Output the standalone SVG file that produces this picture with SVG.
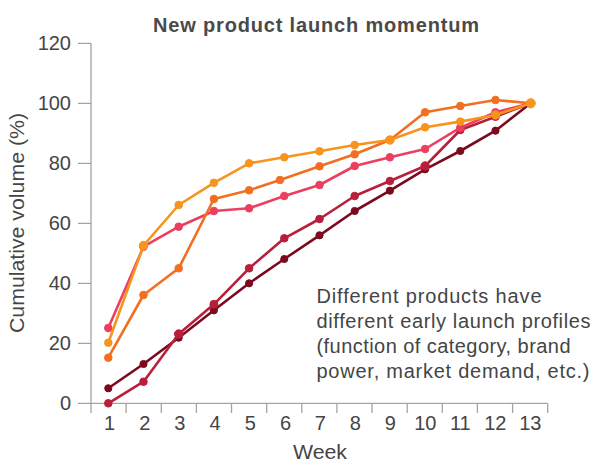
<svg xmlns="http://www.w3.org/2000/svg" width="595" height="463" viewBox="0 0 595 463">
<style>
text{font-family:"Liberation Sans",Arial,sans-serif;fill:#454545;font-size:20px}
.title{font-weight:bold;fill:#4a4a4a}
.ax{stroke:#aaa29c;stroke-width:1.3;fill:none}
.s{fill:none;stroke-width:2.6;stroke-linejoin:round;stroke-linecap:round}
.ytl{text-anchor:end}
.xtl{text-anchor:middle}
.lo{stroke:#f7941e;fill:#f7941e}
.or{stroke:#f26f22;fill:#f26f22}
.pk{stroke:#ec3f60;fill:#ec3f60}
.cr{stroke:#b71f3b;fill:#b71f3b}
.mr{stroke:#7c0a1f;fill:#7c0a1f}
</style>
<rect width="595" height="463" fill="#ffffff"/>
<text class="title" x="316" y="32" text-anchor="middle" textLength="326" lengthAdjust="spacing">New product launch momentum</text>
<g id="axes">
<path class="ax" d="M91 43.3V413M78 43.3H91M78 103.3H91M78 163.3H91M78 223.3H91M78 283.3H91M78 343.3H91M78 403.3H547.7"/>
<path class="ax" d="M126.1 403.3v9.7M161.3 403.3v9.7M196.4 403.3v9.7M231.5 403.3v9.7M266.7 403.3v9.7M301.8 403.3v9.7M336.9 403.3v9.7M372 403.3v9.7M407.2 403.3v9.7M442.3 403.3v9.7M477.4 403.3v9.7M512.6 403.3v9.7M547.7 403.3v9.7"/>
<text class="ytl" x="71" y="50.3">120</text>
<text class="ytl" x="71" y="110.3">100</text>
<text class="ytl" x="71" y="170.3">80</text>
<text class="ytl" x="71" y="230.3">60</text>
<text class="ytl" x="71" y="290.3">40</text>
<text class="ytl" x="71" y="350.3">20</text>
<text class="ytl" x="71" y="410.3">0</text>
<text class="xtl" x="109.5" y="430">1</text>
<text class="xtl" x="144.7" y="430">2</text>
<text class="xtl" x="179.9" y="430">3</text>
<text class="xtl" x="215.1" y="430">4</text>
<text class="xtl" x="250.3" y="430">5</text>
<text class="xtl" x="285.5" y="430">6</text>
<text class="xtl" x="320.3" y="430">7</text>
<text class="xtl" x="355.3" y="430">8</text>
<text class="xtl" x="390.3" y="430">9</text>
<text class="xtl" x="425.3" y="430">10</text>
<text class="xtl" x="460.3" y="430">11</text>
<text class="xtl" x="495.3" y="430">12</text>
<text class="xtl" x="530.3" y="430">13</text>
<text x="320" y="459" text-anchor="middle" textLength="54" lengthAdjust="spacingAndGlyphs">Week</text>
<text transform="translate(24 223) rotate(-90)" text-anchor="middle" textLength="220" lengthAdjust="spacingAndGlyphs">Cumulative volume (%)</text>
</g>
<g id="connectors">
<g id="series-maroon">
<polyline class="s mr" style="fill:none" points="108.3,388.3 143.5,364 178.7,337.7 213.9,310.3 249.1,283.3 284.3,259 319.5,235.3 354.7,211 389.9,190.7 425.1,169.3 460.3,151 495.5,130.7 530.7,103.3"/>
<g class="mr"><circle cx="108.3" cy="388.3" r="3.6"/><circle cx="143.5" cy="364" r="3.6"/><circle cx="178.7" cy="337.7" r="3.6"/><circle cx="213.9" cy="310.3" r="3.6"/><circle cx="249.1" cy="283.3" r="3.6"/><circle cx="284.3" cy="259" r="3.6"/><circle cx="319.5" cy="235.3" r="3.6"/><circle cx="354.7" cy="211" r="3.6"/><circle cx="389.9" cy="190.7" r="3.6"/><circle cx="425.1" cy="169.3" r="3.6"/><circle cx="460.3" cy="151" r="3.6"/><circle cx="495.5" cy="130.7" r="3.6"/></g>
</g>
<g id="series-crimson">
<polyline class="s cr" style="fill:none" points="108.3,403.3 143.5,381.7 178.7,334 213.9,304.3 249.1,268.3 284.3,238.3 319.5,219 354.7,196 389.9,181 425.1,166 460.3,130 495.5,116.7 530.7,103.3"/>
<g class="cr"><circle cx="108.3" cy="403.3" r="3.8"/><circle cx="143.5" cy="381.7" r="3.8"/><circle cx="178.7" cy="334" r="4.2"/><circle cx="213.9" cy="304.3" r="4"/><circle cx="249.1" cy="268.3" r="3.8"/><circle cx="284.3" cy="238.3" r="3.8"/><circle cx="319.5" cy="219" r="3.8"/><circle cx="354.7" cy="196" r="3.8"/><circle cx="389.9" cy="181" r="3.8"/><circle cx="425.1" cy="166" r="4.2"/><circle cx="460.3" cy="130" r="3.8"/><circle cx="495.5" cy="116.7" r="3.8"/></g>
</g>
<g id="series-pink">
<polyline class="s pk" style="fill:none" points="108.3,328 143.5,246.7 178.7,226.7 213.9,211 249.1,208.3 284.3,196 319.5,185 354.7,166 389.9,157.3 425.1,149 460.3,127.7 495.5,112.3 530.7,103.3"/>
<g class="pk"><circle cx="108.3" cy="328" r="3.8"/><circle cx="143.5" cy="246.7" r="3.8"/><circle cx="178.7" cy="226.7" r="3.8"/><circle cx="213.9" cy="211" r="3.8"/><circle cx="249.1" cy="208.3" r="3.8"/><circle cx="284.3" cy="196" r="3.8"/><circle cx="319.5" cy="185" r="3.8"/><circle cx="354.7" cy="166" r="3.8"/><circle cx="389.9" cy="157.3" r="3.8"/><circle cx="425.1" cy="149" r="3.8"/><circle cx="460.3" cy="127.7" r="3.8"/><circle cx="495.5" cy="112.3" r="3.8"/></g>
</g>
<g id="series-orange">
<polyline class="s or" style="fill:none" points="108.3,357.7 143.5,295 178.7,268.3 213.9,199 249.1,190.3 280,180 319.5,166.3 354.7,154.3 389.9,140 425.1,112.3 460.3,106 495.5,100 530.7,103.3"/>
<g class="or"><circle cx="108.3" cy="357.7" r="3.8"/><circle cx="143.5" cy="295" r="3.8"/><circle cx="178.7" cy="268.3" r="3.8"/><circle cx="213.9" cy="199" r="3.8"/><circle cx="249.1" cy="190.3" r="3.8"/><circle cx="280" cy="180" r="3.8"/><circle cx="319.5" cy="166.3" r="3.8"/><circle cx="354.7" cy="154.3" r="3.8"/><circle cx="389.9" cy="140" r="3.8"/><circle cx="425.1" cy="112.3" r="3.8"/><circle cx="460.3" cy="106" r="3.8"/><circle cx="495.5" cy="100" r="3.8"/></g>
</g>
<g id="series-lightorange">
<polyline class="s lo" style="fill:none" points="108.3,342.7 143.5,245.5 178.7,205 213.9,182.8 249.1,163.3 284.3,157.3 319.5,151.3 354.7,145 389.9,140 425.1,127.3 460.3,121.6 495.5,115 530.7,103.3"/>
<g class="lo"><circle cx="108.3" cy="342.7" r="3.8"/><circle cx="143.5" cy="245.5" r="4.2"/><circle cx="178.7" cy="205" r="3.8"/><circle cx="213.9" cy="182.8" r="3.8"/><circle cx="249.1" cy="163.3" r="3.8"/><circle cx="284.3" cy="157.3" r="3.8"/><circle cx="319.5" cy="151.3" r="3.8"/><circle cx="354.7" cy="145" r="3.8"/><circle cx="389.9" cy="140" r="4.2"/><circle cx="425.1" cy="127.3" r="3.8"/><circle cx="460.3" cy="121.6" r="3.8"/><circle cx="495.5" cy="115" r="4.2"/><circle cx="530.7" cy="103.3" r="4.6"/></g>
</g>
</g>
<g id="note">
<text x="316.5" y="303" textLength="225" lengthAdjust="spacing">Different products have</text>
<text x="316.5" y="328" textLength="274" lengthAdjust="spacing">different early launch profiles</text>
<text x="316.5" y="353" textLength="254" lengthAdjust="spacing">(function of category, brand</text>
<text x="316.5" y="378" textLength="273" lengthAdjust="spacing">power, market demand, etc.)</text>
</g>
</svg>
